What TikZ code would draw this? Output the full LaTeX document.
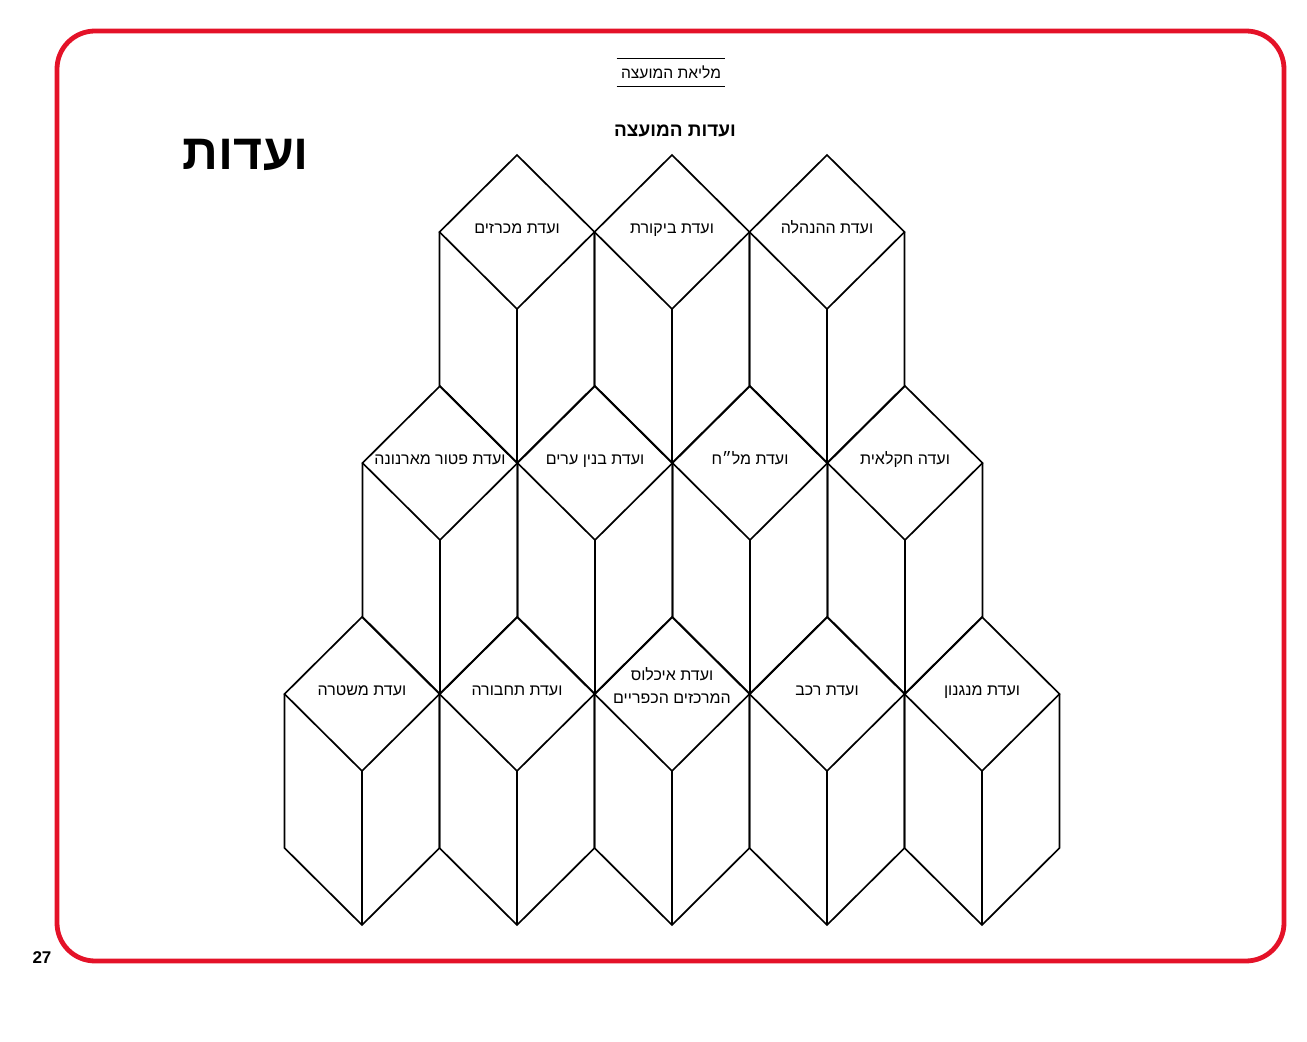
\documentclass[tikz,border=0pt]{standalone}
\usepackage{fontspec}
\setmainfont{Liberation Sans}
\newfontfamily\hebfont[Script=Hebrew]{Liberation Sans}
\TeXXeTstate=1
\usetikzlibrary{positioning}
\definecolor{frameRed}{RGB}{228,18,40}

\begin{document}
\begin{tikzpicture}[x=0.5pt,y=-0.5pt,
	edge/.style={line width=0.85pt,line join=miter},
	cubetext/.style={font=\hebfont\fontsize{8}{11.5}\selectfont,align=center,inner sep=0pt,anchor=base},
	frame/.style={draw=frameRed,line width=2.4pt,rounded corners=19pt}]
	
	\useasboundingbox (0,0) rectangle (1307,1042);
	\def\cw{77.5}
	\def\ch{77}
	
	\draw[frame] (57,31) rectangle (1284,961);
	\node[font=\bfseries\fontsize{8.5}{10}\selectfont] (pagenum) at (42,958) {27};
	
	% headings
	\node[font=\hebfont\bfseries\fontsize{25}{30}\selectfont] (vaadot) at (246,155) {\beginR ועדות\endR};
	\node[font=\hebfont\fontsize{7.8}{10}\selectfont,minimum width=54pt,minimum height=13.5pt,inner sep=0pt] (plenum) at (671,72.5) {\beginR מליאת המועצה\endR};
	\draw[edge] (plenum.north west) -- (plenum.north east);
	\draw[edge] (plenum.south west) -- (plenum.south east);
	\node[font=\hebfont\bfseries\fontsize{9.5}{12}\selectfont] (council) at (675,131) {\beginR ועדות המועצה\endR};
	
	% cubes: centre x / top y / baseline offset / name / text
	\foreach \cx/\t/\by/\nm/\txt in {
		517/155/79/mikrazim/{\beginR ועדת מכרזים\endR},
		672/155/79/bikoret/{\beginR ועדת ביקורת\endR},
		827/155/79/hanhala/{\beginR ועדת ההנהלה\endR},
		440/386/79/arnona/{\beginR ועדת פטור מארנונה\endR},
		595/386/79/binyan/{\beginR ועדת בנין ערים\endR},
		750/386/79/malah/{\beginR ועדת מל״ח\endR},
		905/386/79/haklait/{\beginR ועדה חקלאית\endR},
		362/617/79/mishtara/{\beginR ועדת משטרה\endR},
		517/617/79/tahbura/{\beginR ועדת תחבורה\endR},
		672/617/87/ikhlus/{\beginR ועדת איכלוס\endR\\\beginR המרכזים הכפריים\endR},
		827/617/79/rekhev/{\beginR ועדת רכב\endR},
		982/617/79/manganon/{\beginR ועדת מנגנון\endR}}
	{
		\draw[edge] (\cx,\t) -- ++(\cw,\ch) -- ++(-\cw,\ch) -- ++(-\cw,-\ch) -- cycle;
		\draw[edge] (\cx-\cw,\t+\ch) -- ++(0,2*\ch) -- ++(\cw,\ch) -- ++(\cw,-\ch) -- ++(0,-2*\ch);
		\draw[edge] (\cx,\t+2*\ch) -- ++(0,2*\ch);
		\node[cubetext] (\nm) at (\cx,\t+\by) {\txt};
	}
	
\end{tikzpicture}
\end{document}
